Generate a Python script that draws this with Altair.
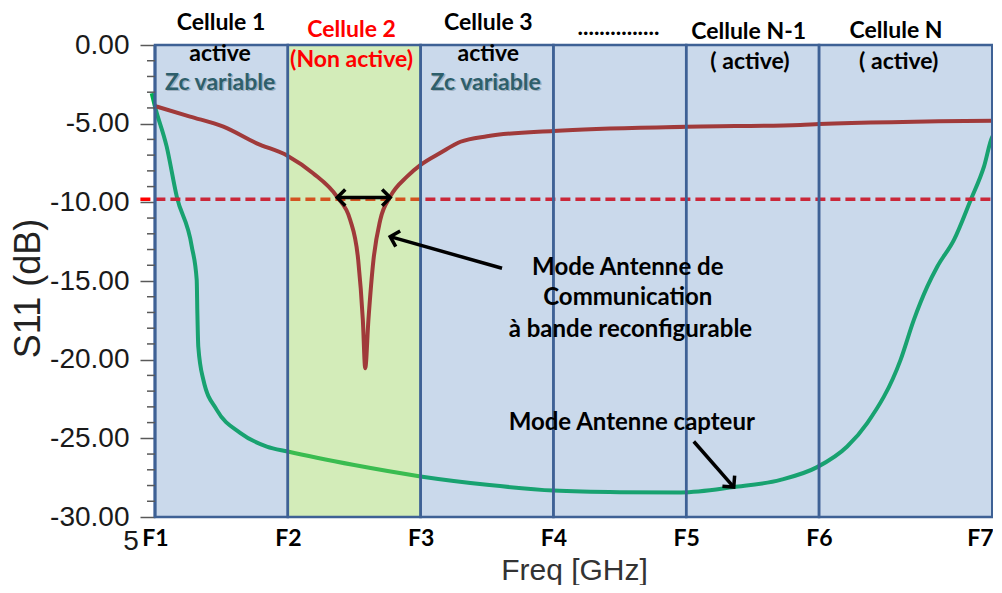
import altair as alt
import pandas as pd

# ---------------- data (x: cell units, F1=0 ... F6=5, F7=6.31 ; y: dB) ----------------
f_pos = [0, 1, 2, 3, 4, 5, 6.31]
f_lab = ["F1", "F2", "F3", "F4", "F5", "F6", "F7"]
y_major = [0, -5, -10, -15, -20, -25, -30]
y_minor = [v for v in range(-1, -30, -1) if v % 5 != 0]

cell_start = [0, 1, 2, 3, 4, 5]
cell_end = [1, 2, 3, 4, 5, 6.31]
cell_fill = ["#4F81BD", "#92D050", "#4F81BD", "#4F81BD", "#4F81BD", "#4F81BD"]
cell_opacity = [0.3, 0.4, 0.3, 0.3, 0.3, 0.3]

green_x = [-0.025, 0, 0.088, 0.164, 0.277, 0.314, 0.319, 0.326, 0.364, 0.465, 0.641, 0.842,
           1.0, 1.5, 2.0, 2.5, 3.0, 3.5, 3.96, 4.358, 4.71, 4.986, 5.212, 5.363,
           5.614, 5.714, 5.815, 5.891, 6.016, 6.142, 6.242, 6.305, 6.33]
green_y = [-3.07, -3.92, -6.46, -9.64, -12.81, -14.93, -17.03, -19.17, -21.28, -23.19, -24.65, -25.52,
           -25.84, -26.7, -27.42, -27.95, -28.32, -28.42, -28.44, -28.1, -27.64, -26.83, -25.52, -24.03,
           -20.01, -17.47, -15.36, -14.08, -12.39, -9.85, -7.73, -5.83, -5.6]

red_x = [0, 0.264, 0.515, 0.766, 1.0, 1.19, 1.37, 1.47, 1.53, 1.565, 1.583, 1.607, 1.645, 1.696,
         1.771, 1.897, 2.0, 2.15, 2.3, 2.5, 3.0, 4.0, 4.86, 5.0, 6.31]
red_y = [-3.88, -4.55, -5.19, -6.25, -7.05, -8.15, -9.64, -11.12, -13.66, -17.47, -20.54, -17.47,
         -13.66, -11.12, -9.64, -8.37, -7.62, -6.85, -6.15, -5.8, -5.46, -5.2, -5.08, -5.02, -4.81]

thresh_level = -9.8
thresh_from, thresh_to = -0.11, 6.36

# header / cell texts
head_text = ["Cellule 1", "Cellule 2", "Cellule 3", "...............", "Cellule N-1", "Cellule N",
             "active", "(Non active)", "active", "( active)", "( active)"]
head_x = [0.497, 1.48, 2.51, 3.49, 4.47, 5.58, 0.49, 1.48, 2.51, 4.48, 5.6]
head_y = [1.40, 0.95, 1.40, 1.05, 0.83, 0.89, -0.57, -0.95, -0.57, -1.08, -1.08]
head_col = ["black", "#FF0000", "black", "black", "black", "black",
            "black", "#FF0000", "black", "black", "black"]

zc_text = ["Zc variable", "Zc variable"]
zc_x = [0.49, 2.49]
zc_y = [-2.41, -2.41]

note_text = ["Mode Antenne de", "Communication", "à bande reconfigurable", "Mode Antenne capteur"]
note_x = [3.56, 3.56, 3.58, 3.59]
note_y = [-14.2, -16.1, -18.1, -24.0]

# arrows: start -> tip
arrow_x = [2.613, 4.057]
arrow_y = [-14.19, -25.2]
arrow_tx = [1.771, 4.358]
arrow_ty = [-12.18, -28.1]
arrow_ang = [195.8, 49.4]
band_x1, band_x2, band_y = 1.372, 1.771, -9.7

stray_text = ["5"]
stray_x = [-0.18]
stray_y = [-31.6]

# ---------------- chart ----------------
W, H = 838, 472
xs = alt.Scale(domain=[0, 6.31], nice=False, zero=False)
ys = alt.Scale(domain=[-30, 0], nice=False, zero=False)
BLUE = "#3E6195"
BOLD = "Lato"
FS = 23

label_expr = "[" + ",".join(f"'{l}'" for l in f_lab) + "][indexof([" + \
    ",".join(str(p) for p in f_pos) + "], datum.value)]"

cells = pd.DataFrame({"x": cell_start, "x2": cell_end, "fill": cell_fill, "op": cell_opacity})
green = pd.DataFrame({"x": green_x, "y": green_y})
red = pd.DataFrame({"x": red_x, "y": red_y})

x_axis = alt.Axis(values=f_pos, labelExpr=label_expr, ticks=False, domain=False, grid=False,
                  labelFont=BOLD, labelFontWeight="bold", labelFontSize=FS, labelColor="black",
                  labelPadding=10, labelFlush=False,
                  labelAlign={"condition": {"test": "datum.value > 6", "value": "right"}, "value": "center"},
                  title="Freq [GHz]", titleFont="Liberation Sans",
                  titleFontSize=30, titleFontWeight="normal", titleColor="#333333",
                  titleY=62, titleBaseline="alphabetic")
y_axis = alt.Axis(values=y_major, labelExpr="replace(format(datum.value, '.2f'), '\u2212', '-')",
                  tickSize=15, tickColor="#595959", tickWidth=1.5,
                  domain=False, grid=False, labelFont="Liberation Sans", labelFontSize=28,
                  labelColor="#1a1a1a", labelPadding=11, title="S11 (dB)",
                  titleFont="Liberation Sans", titleFontSize=36, titleFontWeight="normal",
                  titleColor="#222222", titleX=-127, titleY=243, titleAngle=270,
                  titleBaseline="middle")

green_line = alt.Chart(green).mark_line(color="#00B050", strokeWidth=4, interpolate="monotone").encode(
    x=alt.X("x:Q", scale=xs, axis=x_axis), y=alt.Y("y:Q", scale=ys, axis=y_axis))

thresh = alt.Chart(pd.DataFrame({"x": [thresh_from], "x2": [thresh_to], "y": [thresh_level]})).mark_rule(
    color="#FF0000", strokeWidth=3.5, strokeDash=[10, 5]).encode(
    x=alt.X("x:Q", scale=xs), x2="x2:Q", y=alt.Y("y:Q", scale=ys))

cell_fill_layer = alt.Chart(cells).mark_rect(strokeWidth=0).encode(
    x=alt.X("x:Q", scale=xs), x2="x2:Q",
    y=alt.value(0), y2=alt.value(H),
    fill=alt.Fill("fill:N", scale=None), opacity=alt.Opacity("op:Q", scale=None))

red_line = alt.Chart(red).mark_line(color="#A03A3A", strokeWidth=4, interpolate="monotone").encode(
    x=alt.X("x:Q", scale=xs), y=alt.Y("y:Q", scale=ys))

cell_border = alt.Chart(cells).mark_rect(fillOpacity=0, stroke=BLUE, strokeWidth=2.5).encode(
    x=alt.X("x:Q", scale=xs), x2="x2:Q", y=alt.value(0), y2=alt.value(H))

right_border = alt.Chart(pd.DataFrame({"x": [f_pos[-1]]})).mark_rule(color=BLUE, strokeWidth=4).encode(
    x=alt.X("x:Q", scale=xs), y=alt.value(0), y2=alt.value(H))
left_border = alt.Chart(pd.DataFrame({"x": [f_pos[0]]})).mark_rule(color=BLUE, strokeWidth=3).encode(
    x=alt.X("x:Q", scale=xs), y=alt.value(0), y2=alt.value(H))

minor_ticks = alt.Chart(pd.DataFrame({"y": y_minor})).mark_rule(color="#595959", strokeWidth=1.5).encode(
    x=alt.value(-8), x2=alt.value(0), y=alt.Y("y:Q", scale=ys))

heads = alt.Chart(pd.DataFrame({"t": head_text, "x": head_x, "y": head_y, "c": head_col})).mark_text(
    font=BOLD, fontWeight="bold", fontSize=FS, baseline="middle", align="center").encode(
    x=alt.X("x:Q", scale=xs), y=alt.Y("y:Q", scale=ys), text="t:N", color=alt.Color("c:N", scale=None))

zc_df = pd.DataFrame({"t": zc_text, "x": zc_x, "y": zc_y})
zc_shadow = alt.Chart(zc_df).mark_text(font=BOLD, fontWeight="bold", fontSize=FS, baseline="middle",
                                       align="center", color="#9fb0c0", dx=1.5, dy=1.5).encode(
    x=alt.X("x:Q", scale=xs), y=alt.Y("y:Q", scale=ys), text="t:N")
zc = alt.Chart(zc_df).mark_text(font=BOLD, fontWeight="bold", fontSize=FS, baseline="middle",
                                align="center", color="#2E5F6B").encode(
    x=alt.X("x:Q", scale=xs), y=alt.Y("y:Q", scale=ys), text="t:N")

notes = alt.Chart(pd.DataFrame({"t": note_text, "x": note_x, "y": note_y})).mark_text(
    font=BOLD, fontWeight="bold", fontSize=FS + 1, baseline="middle", align="center", color="black").encode(
    x=alt.X("x:Q", scale=xs), y=alt.Y("y:Q", scale=ys), text="t:N")

arrows_df = pd.DataFrame({"x": arrow_x, "y": arrow_y, "tx": arrow_tx, "ty": arrow_ty, "a": arrow_ang})
arrow_lines = alt.Chart(arrows_df).mark_rule(color="black", strokeWidth=3.5).encode(
    x=alt.X("x:Q", scale=xs), y=alt.Y("y:Q", scale=ys), x2="tx:Q", y2="ty:Q")

CHEVRON = "M-1,-1L0,0L-1,1"
arrow_heads = alt.Chart(arrows_df).mark_point(shape=CHEVRON, filled=False, color="black", strokeWidth=3.5,
                                              size=260, opacity=1).encode(
    x=alt.X("tx:Q", scale=xs), y=alt.Y("ty:Q", scale=ys), angle=alt.Angle("a:Q", scale=None))

band_df = pd.DataFrame({"x": [band_x1], "x2": [band_x2], "y": [band_y]})
band_line = alt.Chart(band_df).mark_rule(color="black", strokeWidth=3.5).encode(
    x=alt.X("x:Q", scale=xs), x2="x2:Q", y=alt.Y("y:Q", scale=ys))
band_heads = alt.Chart(pd.DataFrame({"x": [band_x1, band_x2], "y": [band_y, band_y], "a": [180, 0]})).mark_point(
    shape=CHEVRON, filled=False, color="black", strokeWidth=3.5, size=260, opacity=1).encode(
    x=alt.X("x:Q", scale=xs), y=alt.Y("y:Q", scale=ys), angle=alt.Angle("a:Q", scale=None))

stray = alt.Chart(pd.DataFrame({"t": stray_text, "x": stray_x, "y": stray_y})).mark_text(
    font="Liberation Sans", fontSize=28, color="#1a1a1a", baseline="middle", align="center").encode(
    x=alt.X("x:Q", scale=xs), y=alt.Y("y:Q", scale=ys), text="t:N")

chart = alt.layer(
    green_line, thresh, cell_fill_layer, red_line, cell_border, left_border, right_border,
    minor_ticks, heads, zc_shadow, zc, notes, arrow_lines, arrow_heads, band_line, band_heads, stray
).properties(
    width=W, height=H,
    autosize=alt.AutoSizeParams(type="none"),
    padding={"left": 147, "top": 37, "right": 0, "bottom": 68},
    background="white",
).configure_view(stroke=None)

chart.save("out.html", embed_options={"renderer": "svg", "actions": False})
